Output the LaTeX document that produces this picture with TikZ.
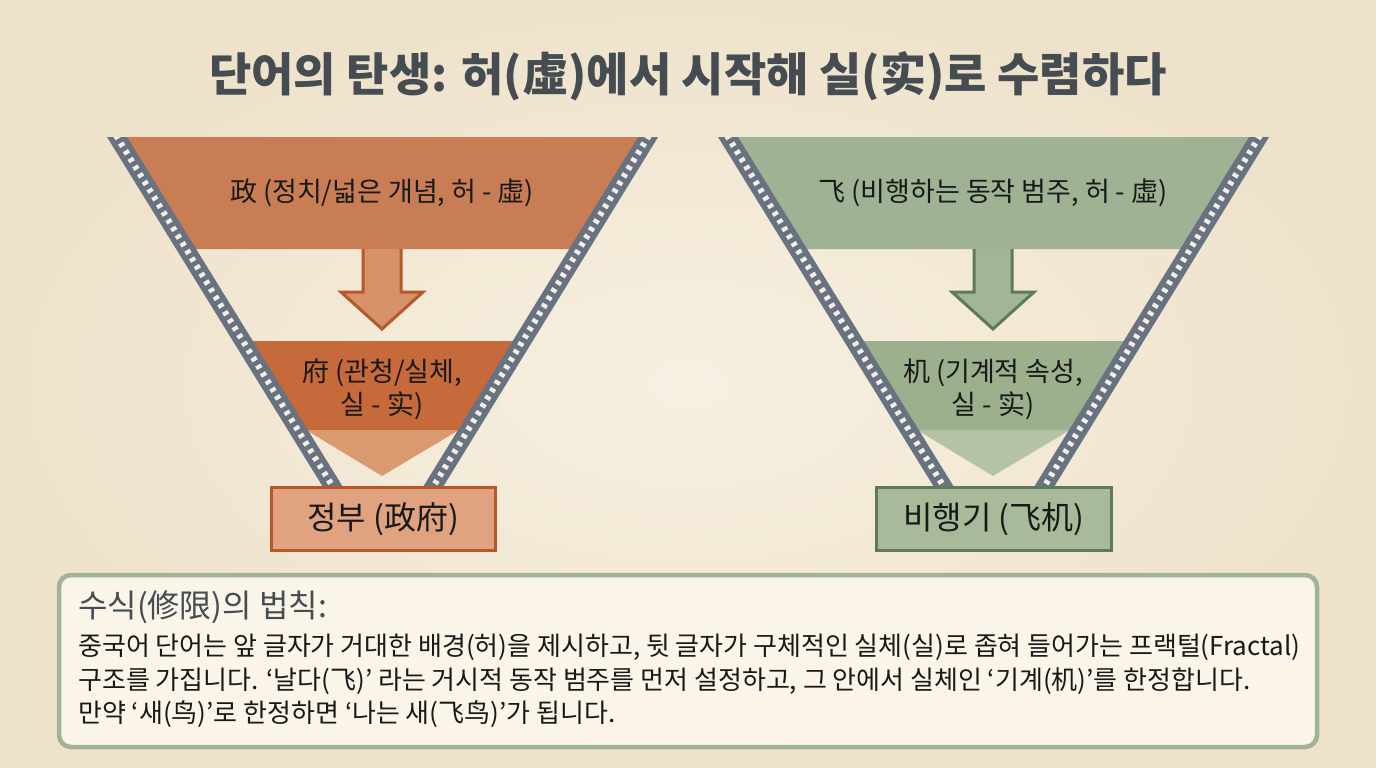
\documentclass[tikz,border=0pt]{standalone}
\usepackage{fontspec}
\setmainfont{Noto Sans CJK KR}
\usepackage{tikz}
\usetikzlibrary{shapes,arrows,positioning,calc}

\definecolor{paper}{HTML}{F7F0E2}
\definecolor{paperdark}{HTML}{EEE2CA}
\definecolor{titlegray}{HTML}{454C52}
\definecolor{filmgray}{HTML}{687280}
\definecolor{holewhite}{HTML}{F2EFE8}
\definecolor{orgtop}{HTML}{C87D55}
\definecolor{orgmid}{HTML}{C66A3C}
\definecolor{orgtip}{HTML}{DA9A70}
\definecolor{orgarrow}{HTML}{D8926A}
\definecolor{orgline}{HTML}{B5582A}
\definecolor{orgbox}{HTML}{E1A27F}
\definecolor{grntop}{HTML}{9FB294}
\definecolor{grnmid}{HTML}{9CB08E}
\definecolor{grntip}{HTML}{B5C3A5}
\definecolor{grnarrow}{HTML}{A2B595}
\definecolor{grnline}{HTML}{5F7A58}
\definecolor{grnbox}{HTML}{A8BA99}
\definecolor{panelline}{HTML}{A0B394}
\definecolor{panelfill}{HTML}{FAF5E8}

\begin{document}
\begin{tikzpicture}[x=1pt, y=-1pt,
    film/.style={line width=17pt, draw=filmgray},
    holes/.style={line width=6pt, draw=holewhite, dash pattern=on 4pt off 5pt},
    bandtext/.style={font=\fontsize{27}{33}\selectfont, text=black!90, align=center},
    wordbox/.style={line width=3pt, minimum height=63pt, inner sep=0pt,
        font=\fontsize{32}{36}\selectfont, text=black!90}]
    % paper
    \shade[inner color=paper, outer color=paperdark] (0,0) rectangle (1376,768);
    \useasboundingbox (0,0) rectangle (1376,768);

    \node[font=\fontsize{46}{52}\selectfont\bfseries, text=titlegray] (title) at (688,76)
        {단어의 탄생: 허(虛)에서 시작해 실(实)로 수렴하다};

    % two funnels
    \foreach \dx/\col in {0/org, 611/grn} {
    \begin{scope}[xshift=\dx pt]
        \fill[fill=\col top] (117,137) -- (648,137) -- (579,249) -- (186,249) -- cycle;
        \fill[fill=\col mid] (243,341) -- (522,341) -- (467,430) -- (298,430) -- cycle;
        \fill[fill=\col tip] (306,430) -- (459,430) -- (382,476) -- cycle;
        \filldraw[fill=\col arrow, draw=\col line, line width=3pt]
            (363,249) -- (363,292) -- (341,292) -- (382,329) -- (423,292) -- (401,292) -- (401,249);
        \begin{scope}
            \clip (0,137) rectangle (800,488);
            \foreach \a/\b in {106.5/341, 658.5/425} {
                \draw[film] (\a,120) -- (\b,500);
                \draw[holes] (\a,120) -- (\b,500);
            }
        \end{scope}
    \end{scope}
    }

    % left: 政府
    \node[bandtext] (zheng) at (382,193) {政 (정치/넓은 개념, 허 - 虛)};
    \node[bandtext] (fu) at (382,389) {府 (관청/실체,\\실 - 实)};
    \node[wordbox, draw=orgline, fill=orgbox, minimum width=224pt] (zhengfu) at (383,519) {정부 (政府)};

    % right: 飞机
    \node[bandtext] (fei) at (993,193) {飞 (비행하는 동작 범주, 허 - 虛)};
    \node[bandtext] (ji) at (993,389) {机 (기계적 속성,\\실 - 实)};
    \node[wordbox, draw=grnline, fill=grnbox, minimum width=235pt] (feiji) at (994,519) {비행기 (飞机)};

    % rule panel
    \node[draw=panelline, line width=4.5pt, fill=panelfill, rounded corners=12pt,
        minimum width=1258pt, minimum height=172pt] (panel) at (688,661) {};
    \node[anchor=west, inner sep=0pt, font=\fontsize{32}{36}\selectfont, text=titlegray]
        (rulehead) at (78,607) {수식(修限)의 법칙:};
    \node[anchor=west, inner sep=0pt, align=left, font=\fontsize{26}{33.5}\selectfont, text=black!90]
        (rulebody) at (78,681) {중국어 단어는 앞 글자가 거대한 배경(허)을 제시하고, 뒷 글자가 구체적인 실체(실)로 좁혀 들어가는 프랙털(Fractal)\\
        구조를 가집니다. ‘날다(飞)’ 라는 거시적 동작 범주를 먼저 설정하고, 그 안에서 실체인 ‘기계(机)’를 한정합니다.\\
        만약 ‘새(鸟)’로 한정하면 ‘나는 새(飞鸟)’가 됩니다.};
\end{tikzpicture}
\end{document}
